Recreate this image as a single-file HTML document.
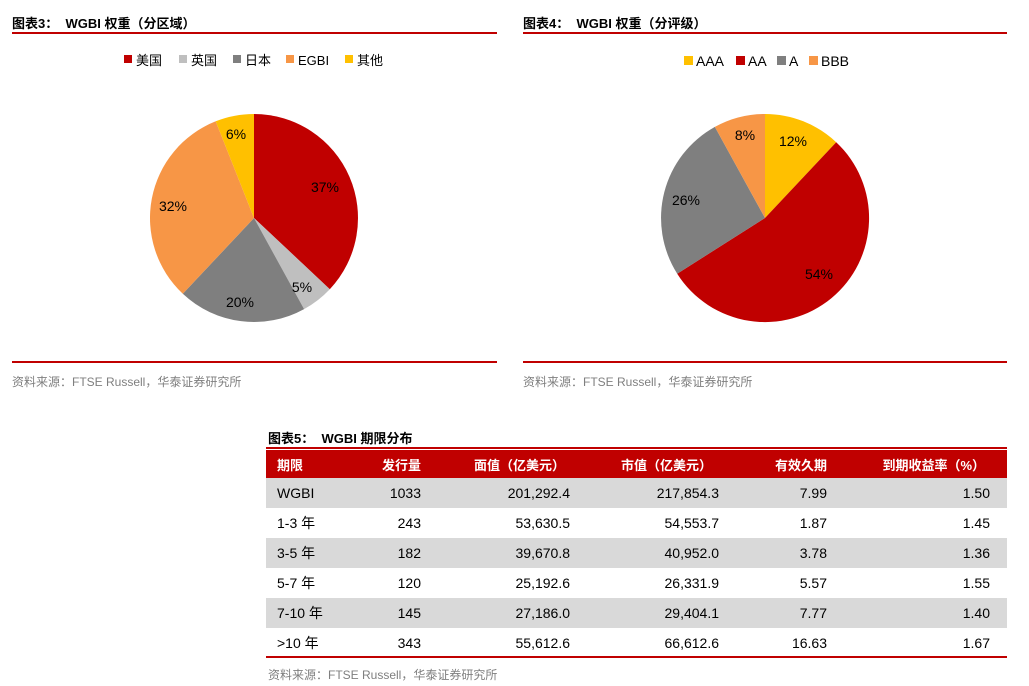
<!DOCTYPE html>
<html><head><meta charset="utf-8"><style>
body{margin:0;width:1029px;height:686px;background:#fff;font-family:"Liberation Sans","Noto Sans CJK SC",sans-serif;position:relative;overflow:hidden}
.a{position:absolute;white-space:nowrap}
.t{font-weight:bold;font-size:13px;color:#000}
.src{font-size:12px;color:#7f7f7f}
.rl{position:absolute;height:2px;background:#c00000}
table{position:absolute;left:266px;top:450px;width:741px;border-collapse:collapse;font-size:14px;table-layout:fixed}
td{height:30px;padding:0;text-align:right;white-space:nowrap;overflow:hidden}
td:first-child{text-align:left;padding-left:11px}
tr.h td{background:#c00000;color:#fff;font-weight:bold;font-size:13px;height:28px}
tr.g td{background:#d9d9d9}
td:last-child{padding-right:17px}
</style></head><body>
<div class="a t" style="left:12px;top:13px">图表3：&nbsp; WGBI 权重（分区域）</div>
<div class="rl" style="left:12px;top:32px;width:485px"></div>
<div class="a t" style="left:523px;top:13px">图表4：&nbsp; WGBI 权重（分评级）</div>
<div class="rl" style="left:523px;top:32px;width:484px"></div>
<svg class="a" style="left:0;top:0" width="1029" height="400" font-family="Liberation Sans,Noto Sans CJK SC,sans-serif" font-size="14">
<g font-size="13">
<rect x="124" y="55" width="8" height="8" fill="#c00000"/><text x="136" y="65">美国</text>
<rect x="179" y="55" width="8" height="8" fill="#bfbfbf"/><text x="191" y="65">英国</text>
<rect x="233" y="55" width="8" height="8" fill="#7f7f7f"/><text x="245" y="65">日本</text>
<rect x="286" y="55" width="8" height="8" fill="#f79646"/><text x="298" y="65">EGBI</text>
<rect x="345" y="55" width="8" height="8" fill="#ffc000"/><text x="357" y="65">其他</text>
</g>
<g font-size="14">
<rect x="684" y="56" width="9" height="9" fill="#ffc000"/><text x="696" y="66">AAA</text>
<rect x="736" y="56" width="9" height="9" fill="#c00000"/><text x="748" y="66">AA</text>
<rect x="777" y="56" width="9" height="9" fill="#7f7f7f"/><text x="789" y="66">A</text>
<rect x="809" y="56" width="9" height="9" fill="#f79646"/><text x="821" y="66">BBB</text>
</g>
<path d="M254,218 L254,114 A104,104 0 0 1 329.8,289.2Z" fill="#c00000"/>
<path d="M254,218 L329.8,289.2 A104,104 0 0 1 304.1,309.1Z" fill="#bfbfbf"/>
<path d="M254,218 L304.1,309.1 A104,104 0 0 1 182.8,293.8Z" fill="#7f7f7f"/>
<path d="M254,218 L182.8,293.8 A104,104 0 0 1 215.7,121.3Z" fill="#f79646"/>
<path d="M254,218 L215.7,121.3 A104,104 0 0 1 254,114Z" fill="#ffc000"/>
<path d="M765,218 L765,114 A104,104 0 0 1 836.2,142.2Z" fill="#ffc000"/>
<path d="M765,218 L836.2,142.2 A104,104 0 1 1 677.2,273.7Z" fill="#c00000"/>
<path d="M765,218 L677.2,273.7 A104,104 0 0 1 714.9,126.9Z" fill="#7f7f7f"/>
<path d="M765,218 L714.9,126.9 A104,104 0 0 1 765,114Z" fill="#f79646"/>
<g text-anchor="middle">
<text x="325" y="192">37%</text><text x="302" y="292">5%</text><text x="240" y="307">20%</text><text x="173" y="211">32%</text><text x="236" y="139">6%</text>
<text x="793" y="146">12%</text><text x="819" y="279">54%</text><text x="686" y="205">26%</text><text x="745" y="140">8%</text>
</g>
</svg>
<div class="rl" style="left:12px;top:361px;width:485px"></div>
<div class="a src" style="left:12px;top:373px">资料来源：FTSE Russell，华泰证券研究所</div>
<div class="rl" style="left:523px;top:361px;width:484px"></div>
<div class="a src" style="left:523px;top:373px">资料来源：FTSE Russell，华泰证券研究所</div>
<div class="a t" style="left:268px;top:428px">图表5：&nbsp; WGBI 期限分布</div>
<div class="rl" style="left:266px;top:447px;width:741px"></div>
<table>
<colgroup><col style="width:90px"><col style="width:65px"><col style="width:149px"><col style="width:149px"><col style="width:108px"><col style="width:180px"></colgroup>
<tr class="h"><td>期限</td><td>发行量</td><td style="padding-right:5px">面值（亿美元）</td><td style="padding-right:7px">市值（亿美元）</td><td>有效久期</td><td style="padding-right:22px">到期收益率（%）</td></tr>
<tr class="g"><td>WGBI</td><td>1033</td><td>201,292.4</td><td>217,854.3</td><td>7.99</td><td>1.50</td></tr>
<tr><td>1-3 年</td><td>243</td><td>53,630.5</td><td>54,553.7</td><td>1.87</td><td>1.45</td></tr>
<tr class="g"><td>3-5 年</td><td>182</td><td>39,670.8</td><td>40,952.0</td><td>3.78</td><td>1.36</td></tr>
<tr><td>5-7 年</td><td>120</td><td>25,192.6</td><td>26,331.9</td><td>5.57</td><td>1.55</td></tr>
<tr class="g"><td>7-10 年</td><td>145</td><td>27,186.0</td><td>29,404.1</td><td>7.77</td><td>1.40</td></tr>
<tr><td>&gt;10 年</td><td>343</td><td>55,612.6</td><td>66,612.6</td><td>16.63</td><td>1.67</td></tr>
</table>
<div class="rl" style="left:266px;top:656px;width:741px"></div>
<div class="a src" style="left:268px;top:666px">资料来源：FTSE Russell，华泰证券研究所</div>
</body></html>
